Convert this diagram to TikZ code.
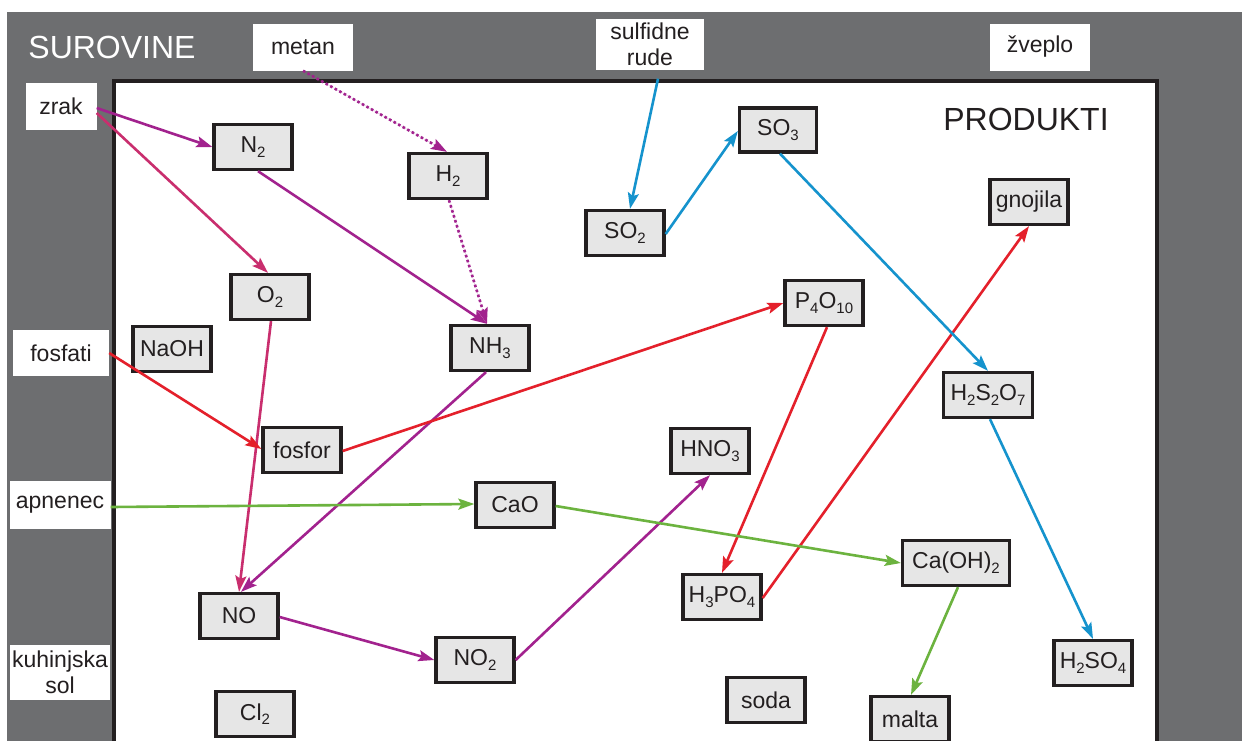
\documentclass[tikz,border=0pt]{standalone}
\usepackage{fontspec}
\setmainfont{Liberation Sans}
\usetikzlibrary{arrows.meta,calc}
\definecolor{bggray}{RGB}{109,110,112}
\definecolor{boxgray}{RGB}{230,230,230}
\definecolor{ink}{RGB}{35,31,32}
\definecolor{nitro}{RGB}{162,34,142}
\definecolor{oxy}{RGB}{201,46,110}
\definecolor{phos}{RGB}{228,32,43}
\definecolor{sulf}{RGB}{21,147,205}
\definecolor{calc}{RGB}{108,179,63}
\newcommand\boxfont{\fontsize{23}{26}\selectfont}
\newcommand\ssub[1]{\raisebox{-4.5pt}{\fontsize{15}{15}\selectfont #1}}
\begin{document}
\begin{tikzpicture}[x=1pt,y=-1pt,
  chem/.style={draw=ink, line width=3.3pt, fill=boxgray, inner sep=0pt,
    minimum width=78pt, minimum height=45pt, text=ink, font=\boxfont},
  raw/.style={fill=white, inner sep=0pt, text=ink, font=\boxfont, align=center},
  link/.style={line width=2.6pt, -{Stealth[length=16pt,width=11pt,inset=3pt]}},
  nitl/.style={link, draw=nitro, fill=nitro},
  oxyl/.style={link, draw=oxy, fill=oxy},
  phol/.style={link, draw=phos, fill=phos},
  sull/.style={link, draw=sulf, fill=sulf},
  call/.style={link, draw=calc, fill=calc},
  dotted link/.style={dash pattern=on 2.6pt off 2.6pt}]
\clip (0,0) rectangle (1242,740);
\fill[white] (0,0) rectangle (1242,740);
% background regions
\fill[bggray] (7,12) rectangle (1242,745);
\draw[ink, line width=3.3pt, fill=white] (114,81) rectangle (1157,760);
% titles
\node[text=white, font=\fontsize{32}{36}\selectfont] (surovine) at (112,47) {SUROVINE};
\node[text=ink, font=\fontsize{32}{36}\selectfont] (produkti) at (1026,119) {PRODUKTI};
% raw materials
\node[raw, minimum width=100pt, minimum height=47pt] (metan) at (303,47) {metan};
\node[raw, minimum width=71pt, minimum height=47pt] (zrak) at (61,106) {zrak};
\node[raw, minimum width=108pt, minimum height=51pt] (rude) at (650,44) {sulfidne\\rude};
\node[raw, minimum width=100pt, minimum height=47pt] (zveplo) at (1040,47) {žveplo};
\node[raw, minimum width=96pt, minimum height=46pt] (fosfati) at (61,353) {fosfati};
\node[raw, minimum width=101pt, minimum height=48pt] (apnenec) at (60,505) {apnenec};
\node[raw, minimum width=100pt, minimum height=55pt] (sol) at (60,672) {kuhinjska\\sol};
% products
\node[chem] (N2) at (253,147) {N\ssub{2}};
\node[chem] (H2) at (448,176) {H\ssub{2}};
\node[chem] (SO2) at (625,233) {SO\ssub{2}};
\node[chem, minimum width=77pt, minimum height=44pt] (SO3) at (778,130) {SO\ssub{3}};
\node[chem] (gnojila) at (1029,202) {gnojila};
\node[chem] (O2) at (270,297) {O\ssub{2}};
\node[chem] (NaOH) at (172,349) {NaOH};
\node[chem] (NH3) at (490,348) {NH\ssub{3}};
\node[chem] (P4O10) at (824,303) {P\ssub{4}O\ssub{10}};
\node[chem, minimum width=89pt] (H2S2O7) at (988,395) {H\ssub{2}S\ssub{2}O\ssub{7}};
\node[chem] (fosfor) at (302,450) {fosfor};
\node[chem] (HNO3) at (710,451) {HNO\ssub{3}};
\node[chem] (CaO) at (515,505) {CaO};
\node[chem, minimum width=107pt] (CaOH2) at (956,563) {Ca(OH)\ssub{2}};
\node[chem] (H3PO4) at (722,597) {H\ssub{3}PO\ssub{4}};
\node[chem] (NO) at (239,616) {NO};
\node[chem] (NO2) at (475,660) {NO\ssub{2}};
\node[chem] (H2SO4) at (1093,663) {H\ssub{2}SO\ssub{4}};
\node[chem] (soda) at (766,700) {soda};
\node[chem] (Cl2) at (255,714) {Cl\ssub{2}};
\node[chem] (malta) at (910,719) {malta};
% nitrogen
\draw[nitl] ($(zrak.east)+(0,2)$) -- (N2.west);
\draw[oxyl] ($(zrak.east)+(0,7)$) -- ($(O2.north)+(-2,0)$);
\draw[nitl, dotted link] (metan.south) -- ($(H2.north)+(-1,0)$);
\draw[nitl] ($(N2.south)+(5,0)$) -- ($(NH3.north)+(-3,0)$);
\draw[nitl, dotted link] ($(H2.south)+(1,0)$) -- ($(NH3.north)+(-3,0)$);
\draw[oxyl] ($(O2.south)+(1,0)$) -- (NO.north);
\draw[nitl] ($(NH3.south)+(-4,0)$) -- ($(NO.north)+(2,0)$);
\draw[nitl] ($(NO.east)+(0,1)$) -- (NO2.west);
\draw[nitl] (NO2.east) -- (HNO3.south);
% phosphorus
\draw[phol] (fosfati.east) -- ($(fosfor.west)+(0,-1)$);
\draw[phol] ($(fosfor.east)+(0,1)$) -- (P4O10.west);
\draw[phol] ($(P4O10.south)+(3,0)$) -- (H3PO4.north);
\draw[phol] ($(H3PO4.east)+(0,1)$) -- (gnojila.south);
% sulfur
\draw[sull] ($(rude.south)+(8,9)$) -- ($(SO2.north)+(5,0)$);
\draw[sull] ($(SO2.east)+(0,1)$) -- ($(SO3.west)+(0,1)$);
\draw[sull] ($(SO3.south)+(2,0)$) -- (H2S2O7.north);
\draw[sull] ($(H2S2O7.south)+(2,0)$) -- (H2SO4.north);
% calcium
\draw[call] ($(apnenec.east)+(0,2)$) -- ($(CaO.west)+(0,-1)$);
\draw[call] ($(CaO.east)+(0,1)$) -- (CaOH2.west);
\draw[call] ($(CaOH2.south)+(2,0)$) -- ($(malta.north)+(1,0)$);
\end{tikzpicture}
\end{document}
